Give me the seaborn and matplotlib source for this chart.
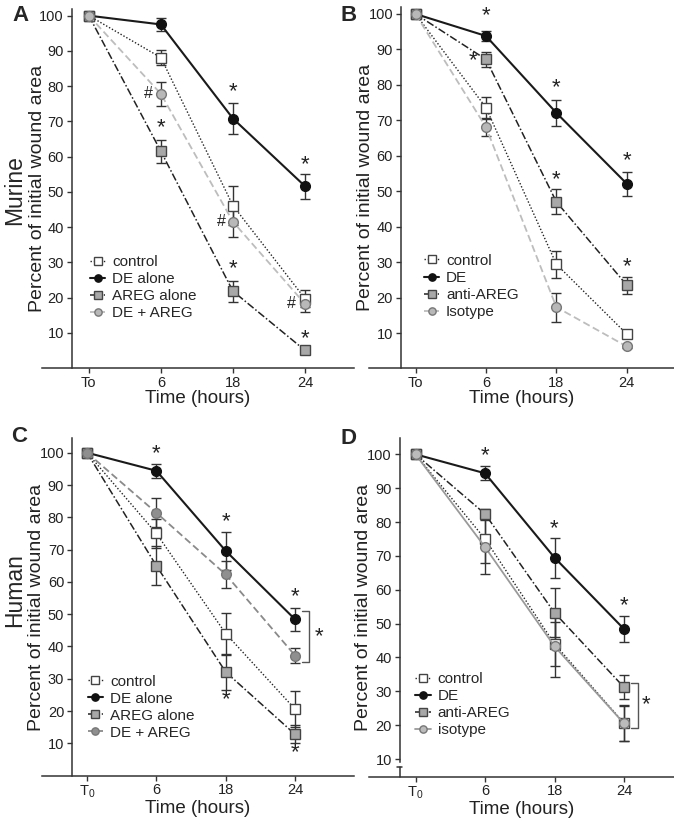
import numpy as np
import pandas as pd
import matplotlib
matplotlib.use("Agg")
import matplotlib.pyplot as plt
import seaborn as sns

# ---- data (mean, error) ----
murine_times = ["To", "6", "18", "24"]
human_times = ["T$_0$", "6", "18", "24"]

a_labels = ["control", "DE alone", "AREG alone", "DE + AREG"]
a_control = [100, 88.1, 46.1, 19.7]
a_control_err = [0, 2.2, 5.5, 2.5]
a_de = [100, 97.5, 70.8, 51.6]
a_de_err = [0, 1.8, 4.3, 3.5]
a_areg = [100, 61.5, 21.8, 5.0]
a_areg_err = [0, 3.3, 3.0, 0.6]
a_de_areg = [100, 77.8, 41.5, 18.2]
a_de_areg_err = [0, 3.5, 4.2, 2.4]

b_labels = ["control", "DE", "anti-AREG", "Isotype"]
b_control = [100, 73.6, 29.4, 9.7]
b_control_err = [0, 3.1, 3.8, 1.0]
b_de = [100, 93.8, 72.1, 52.1]
b_de_err = [0, 1.5, 3.7, 3.4]
b_anti = [100, 87.2, 47.0, 23.5]
b_anti_err = [0, 2.2, 3.5, 2.4]
b_iso = [100, 68.1, 17.3, 6.2]
b_iso_err = [0, 2.6, 4.1, 0.5]

c_labels = ["control", "DE alone", "AREG alone", "DE + AREG"]
c_control = [100, 75.0, 44.0, 20.6]
c_control_err = [0, 4.5, 6.5, 5.5]
c_de = [100, 94.4, 69.6, 48.4]
c_de_err = [0, 2.1, 5.9, 3.6]
c_areg = [100, 65.0, 32.1, 12.8]
c_areg_err = [0, 6.0, 5.5, 2.8]
c_de_areg = [100, 81.4, 62.3, 37.2]
c_de_areg_err = [0, 4.5, 4.3, 2.4]

d_labels = ["control", "DE", "anti-AREG", "isotype"]
d_control = [100, 75.0, 44.0, 20.6]
d_control_err = [0, 7.0, 6.5, 5.4]
d_de = [100, 94.4, 69.5, 48.4]
d_de_err = [0, 2.1, 5.9, 3.7]
d_anti = [100, 82.4, 53.2, 31.2]
d_anti_err = [0, 1.5, 7.2, 3.6]
d_iso = [100, 72.6, 43.3, 20.5]
d_iso_err = [0, 8.0, 9.0, 5.2]

sns.set_style("ticks")
plt.rcParams["font.family"] = ["Liberation Sans", "DejaVu Sans"]
plt.rcParams["mathtext.fontset"] = "custom"
plt.rcParams["mathtext.rm"] = "Liberation Sans"
plt.rcParams["mathtext.it"] = "Liberation Sans"

DOT = (0, (1, 1.4))
DASHDOT = (0, (5, 1.5, 1, 1.5))
DASH = (0, (4, 2))
EDGE = "#444444"

def style(kind, shade="#b3b3b3", line=None, ls=DASH):
    if kind == "control":
        return dict(color="#222222", linestyle=DOT, lw=1.0, marker="s",
                    markerfacecolor="white", markeredgecolor=EDGE)
    if kind == "de":
        return dict(color="#1a1a1a", linestyle="-", lw=1.5, marker="o",
                    markerfacecolor="#111111", markeredgecolor="#111111")
    if kind == "areg":
        return dict(color="#222222", linestyle=DASHDOT, lw=1.1, marker="s",
                    markerfacecolor="#a8a8a8", markeredgecolor=EDGE)
    return dict(color=line or shade, linestyle=ls, lw=1.3, marker="o",
                markerfacecolor=shade, markeredgecolor="#777777")


def panel(ax, series, times, xlim, ylim, yspine, legend_xy, ylab_x):
    x = np.arange(len(times))
    for vals, errs, lab, st in series:
        ax.errorbar(x[1:], vals[1:], yerr=errs[1:], fmt="none", ecolor="#333333",
                    elinewidth=1.0, capsize=3.4, capthick=1.0, zorder=2)
        sns.lineplot(x=x, y=vals, ax=ax, label=lab, markersize=7,
                     markeredgewidth=1.0, zorder=3, **st)
    ax.set_xlim(*xlim)
    ax.set_ylim(*ylim)
    ax.set_xticks(x)
    ax.set_xticklabels(times)
    ax.set_yticks(np.arange(10, 101, 10))
    sns.despine(ax=ax)
    ax.spines["left"].set_position(("data", yspine))
    for s in ("left", "bottom"):
        ax.spines[s].set_linewidth(1.1)
        ax.spines[s].set_color("#333333")
    ax.tick_params(axis="both", labelsize=10.5, colors="#333333", labelcolor="#222222",
                   length=3.5, width=1.0, direction="out", pad=2)
    ax.set_ylabel("Percent of initial wound area", fontsize=14, color="#222222")
    ax.yaxis.set_label_coords(ylab_x, 0.5)
    ax.set_xlabel("Time (hours)", fontsize=13.5, color="#222222", labelpad=0)
    ax.legend(loc="upper left", bbox_to_anchor=legend_xy, frameon=False, fontsize=11,
              handlelength=1.0, handletextpad=0.45, labelspacing=0.2, borderpad=0,
              borderaxespad=0, markerscale=0.75)


def star(ax, x, y, s="*", size=16):
    ax.text(x, y, s, ha="center", va="center", fontsize=size if s == "*" else 11.5,
            color="#222222")


fig = plt.figure(figsize=(6.74, 8.19), dpi=100)
axA = fig.add_axes([0.0623, 0.5507, 0.4629, 0.4388])
axB = fig.add_axes([0.5475, 0.5501, 0.4525, 0.4415])
axC = fig.add_axes([0.0623, 0.0529, 0.4629, 0.4117])
axD = fig.add_axes([0.5475, 0.0516, 0.4525, 0.4131])

panel(axA, [(a_control, a_control_err, a_labels[0], style("control")),
            (a_de, a_de_err, a_labels[1], style("de")),
            (a_areg, a_areg_err, a_labels[2], style("areg")),
            (a_de_areg, a_de_areg_err, a_labels[3], style("iso", "#b8b8b8", "#bdbdbd"))],
      murine_times, (-0.65, 3.68), (0, 102), -0.24, (0.154, 0.314), 0.013)

panel(axB, [(b_control, b_control_err, b_labels[0], style("control")),
            (b_de, b_de_err, b_labels[1], style("de")),
            (b_anti, b_anti_err, b_labels[2], style("areg")),
            (b_iso, b_iso_err, b_labels[3], style("iso", "#b8b8b8", "#bdbdbd"))],
      murine_times, (-0.66, 3.67), (0, 102), -0.21, (0.18, 0.317), 0.016)

panel(axC, [(c_control, c_control_err, c_labels[0], style("control")),
            (c_de, c_de_err, c_labels[1], style("de")),
            (c_areg, c_areg_err, c_labels[2], style("areg")),
            (c_de_areg, c_de_areg_err, c_labels[3], style("iso", "#8f8f8f", "#8a8a8a"))],
      human_times, (-0.65, 3.85), (0, 104.4), -0.22, (0.147, 0.30), 0.010)

panel(axD, [(d_control, d_control_err, d_labels[0], style("control")),
            (d_de, d_de_err, d_labels[1], style("de")),
            (d_anti, d_anti_err, d_labels[2], style("areg")),
            (d_iso, d_iso_err, d_labels[3], style("iso", "#bbbbbb", "#9a9a9a", "-"))],
      human_times, (-0.67, 3.72), (4.77, 104.7), -0.23, (0.152, 0.31), 0.010)

# broken y axis in D
axD.spines["left"].set_bounds(9.2, 104.7)
axD.plot([-0.23, -0.23], [4.77, 7.6], color="#333333", lw=1.1, clip_on=False)
axD.plot([-0.27, -0.19], [7.6, 7.6], color="#333333", lw=1.1, clip_on=False)

# significance marks
for x, y in [(2, 78.5), (3, 57.8), (1, 68.2), (2, 28.2), (3, 8.4)]:
    star(axA, x, y)
for x, y in [(0.82, 78.0), (1.84, 41.5), (2.81, 18.2)]:
    star(axA, x, y, "#")
for x, y in [(1, 99.4), (2, 79.3), (3, 58.6), (0.82, 86.7), (2, 53.2), (3, 28.8)]:
    star(axB, x, y)
for x, y in [(1, 99.8), (2, 78.6), (3, 55.4), (2, 23.4), (3, 7.2)]:
    star(axC, x, y)
axC.plot([3.10, 3.20, 3.20, 3.10], [51.0, 51.0, 35.1, 35.1], color="#555555", lw=1.0)
star(axC, 3.35, 43.0)
for x, y in [(1, 99.5), (2, 78.1), (3, 55.2)]:
    star(axD, x, y)
axD.plot([3.10, 3.20, 3.20, 3.10], [32.4, 32.4, 19.1, 19.1], color="#555555", lw=1.0)
star(axD, 3.31, 26.0)

# panel letters and row labels
for lab, x, y in [("A", 0.030, 0.981), ("B", 0.517, 0.981), ("C", 0.028, 0.467), ("D", 0.517, 0.465)]:
    fig.text(x, y, lab, fontsize=16, fontweight="bold", ha="center", va="center")
fig.text(0.022, 0.768, "Murine", rotation=90, fontsize=16.5, ha="center", va="center")
fig.text(0.021, 0.280, "Human", rotation=90, fontsize=16.5, ha="center", va="center")

fig.savefig("out.png", dpi=100)
